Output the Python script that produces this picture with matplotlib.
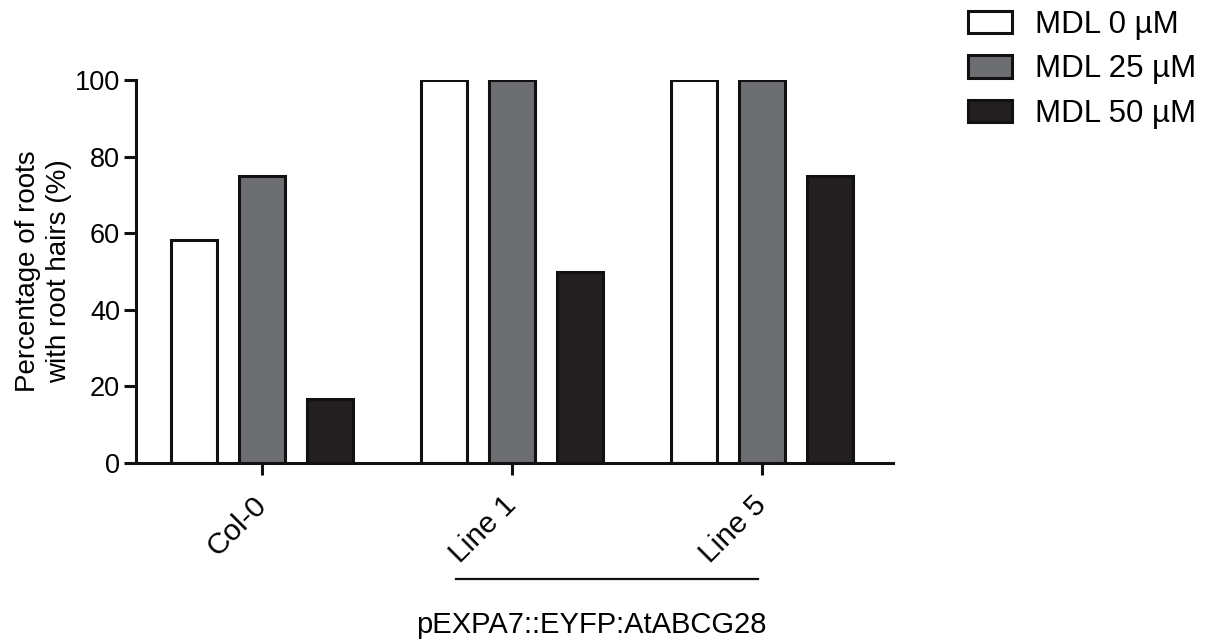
import matplotlib
matplotlib.use("Agg")
import matplotlib.pyplot as plt
import numpy as np

plt.rcParams['font.family'] = ['Liberation Sans', 'DejaVu Sans']

groups = ["Col-0", "Line 1", "Line 5"]
series_names = ["MDL 0 µM", "MDL 25 µM", "MDL 50 µM"]
mdl0 = [58.3, 100, 100]
mdl25 = [75, 100, 100]
mdl50 = [16.7, 50, 75]
colors = ["#ffffff", "#6d6e71", "#231f20"]
yticks = [0, 20, 40, 60, 80, 100]

fig = plt.figure(figsize=(12.11, 6.39), dpi=100)
ax = fig.add_axes([136/1211, 1-463/639, (893-136)/1211, (463-80)/639])

x = np.arange(len(groups))
w = 0.185
off = 0.272
for i, (vals, name, c) in enumerate(zip([mdl0, mdl25, mdl50], series_names, colors)):
    ax.bar(x + (i-1)*off, vals, width=w, color=c, edgecolor="#111111",
           linewidth=2.2, label=name, zorder=2)

ax.set_xlim(-0.504, 2.524)
ax.set_ylim(0, 100)
ax.set_yticks(yticks)
ax.set_yticklabels([str(v) for v in yticks], fontsize=19.5)
ax.set_xticks(x)
ax.set_xticklabels(groups, rotation=45, ha="right", va="center",
                   rotation_mode="anchor", fontsize=21.5)
for s in ["top", "right"]:
    ax.spines[s].set_visible(False)
for s in ["left", "bottom"]:
    ax.spines[s].set_linewidth(2.2)
    ax.spines[s].set_color("#111111")
ax.tick_params(axis="both", width=2.2, length=8.5, color="#111111")
ax.tick_params(axis="x", pad=19)
ax.tick_params(axis="y", pad=3)
ax.set_ylabel("Percentage of roots\nwith root hairs (%)", fontsize=20, linespacing=1.25, labelpad=2)

leg = ax.legend(loc="upper left", bbox_to_anchor=(968/1211, 1-10/639), bbox_transform=fig.transFigure,
                frameon=False, fontsize=22.5, handlelength=1.4, handleheight=0.72,
                labelspacing=0.46, handletextpad=0.74, borderpad=0, borderaxespad=0)

# bracket for transgenic lines
fig.add_artist(plt.Line2D([456/1211, 758/1211], [1-579/639, 1-579/639],
                          color="#111111", linewidth=1.6))
fig.text(591/1211, 1-633/639, "pEXPA7::EYFP:AtABCG28", ha="center", va="baseline", fontsize=21)

fig.savefig("out.png", dpi=100)
